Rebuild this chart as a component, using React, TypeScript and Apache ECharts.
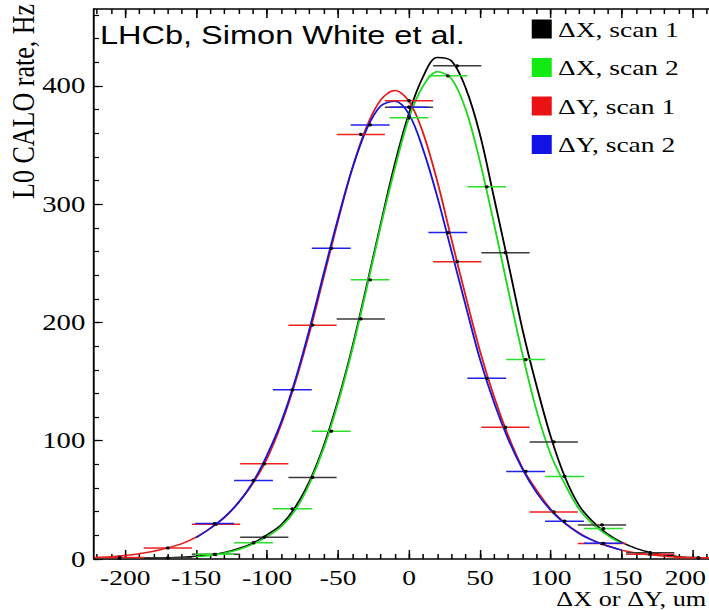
import React, { useEffect, useRef } from "react";
import * as echarts from "echarts";

// ---- data ----
const scan1X = [-204, -170, -136, -102, -68, -34, 0, 34, 68, 102, 136, 170, 204];
const scan2X = [-137, -109.6, -82.2, -54.8, -27.4, 0, 27.4, 54.8, 82.2, 109.6, 137];
const scan1HalfBin = 17;
const scan2HalfBin = 13.7;

const dx1Rate = [0.5, 1, 4, 18.4, 69, 203, 382, 417, 259, 99, 28.8, 5.3, 1];
const dy1Rate = [1.3, 9.3, 29.4, 80.5, 197.7, 359, 387.5, 251.4, 111.3, 39.8, 13, 4, 1];
const dx2Rate = [4, 13.8, 42.4, 108, 236, 373, 408.5, 314.7, 168.6, 69.8, 25.7];
const dy2Rate = [30, 66.4, 143, 262.7, 367, 382, 276, 152.8, 74, 32, 13.3];

const fitX1 = [-222, -210, -200, -190, -180, -170, -160, -150, -140, -130, -120, -110, -100, -90, -80, -70, -60, -50, -40, -30, -20, -10, 0, 10, 20, 30, 40, 50, 60, 70, 80, 90, 100, 110, 120, 130, 140, 150, 160, 170, 180, 190, 200, 210, 222];
const fitX2 = [-150, -140, -130, -120, -110, -100, -90, -80, -70, -60, -50, -40, -30, -20, -10, 0, 10, 20, 30, 40, 50, 60, 70, 80, 90, 100, 110, 120, 130, 140, 150];

const dx1Fit = [0.1, 0.2, 0.3, 0.5, 0.7, 1.0, 1.5, 2.3, 3.5, 5.5, 9, 13.5, 20.5, 29, 44, 66, 96, 134, 179, 230, 283, 334, 377, 408, 424, 421, 398, 359, 305, 250, 194, 146, 103, 69, 45, 31, 21, 14, 9, 5.5, 3.5, 2, 1.2, 0.7, 0.4];
const dy1Fit = [1.2, 2, 3, 4.5, 6.5, 9.5, 13, 18.5, 26, 35, 48, 64, 85, 114, 150, 192, 239, 286, 330, 365, 388, 396, 387, 360, 319, 270, 222, 176, 137, 104, 77, 58, 42, 30.5, 22, 15.6, 11, 7.5, 5, 3.5, 2.4, 1.7, 1.2, 0.8, 0.5];
const dx2Fit = [2, 3, 5, 8, 12.5, 19, 27.5, 41.5, 64, 94, 132, 177, 228, 281, 330, 373, 400, 412, 406, 380, 336, 283, 227, 173, 125, 88, 63, 42, 29, 20, 13];
const dy2Fit = [18, 26, 35.5, 48, 65, 88, 116, 152, 195, 242, 288, 330, 363, 383, 387, 376, 346, 306, 260, 214, 169, 132, 101, 76, 56, 41, 30, 21.5, 15.5, 11, 7.5];

const xMajorTicks = [-200, -150, -100, -50, 0, 50, 100, 150, 200];
const xMinorTicks = [-220, -210, -200, -190, -180, -170, -160, -150, -140, -130, -120, -110, -100, -90, -80, -70, -60, -50, -40, -30, -20, -10, 0, 10, 20, 30, 40, 50, 60, 70, 80, 90, 100, 110, 120, 130, 140, 150, 160, 170, 180, 190, 200, 210, 220];
const yMajorTicks = [0, 100, 200, 300, 400];
const yMinorTicks = [0, 20, 40, 60, 80, 100, 120, 140, 160, 180, 200, 220, 240, 260, 280, 300, 320, 340, 360, 380, 400, 420, 440, 460];

const seriesNames = ["ΔX, scan 1", "ΔX, scan 2", "ΔY, scan 1", "ΔY, scan 2"];
const legendColors = ["#000000", "#12ea12", "#ea1212", "#1212e6"];
const curveColors = ["#000000", "#1ed81e", "#e41a1a", "#1515dd"];
const barColors = ["#3a3a3a", "#2ae02a", "#ee2020", "#2020ee"];

const SX = 1.25; // horizontal stretch of the reference picture
const W = 600;
const H = 610;

const serif = "'Liberation Serif', 'Times New Roman', serif";

function pointsSeries(name: string, xs: number[], ys: number[], hw: number, color: string) {
  return {
    type: "custom",
    name,
    data: xs.map((x, i) => [x, ys[i], hw]),
    encode: { x: 0, y: 1 },
    z: 5,
    renderItem: (params: any, api: any) => {
      const x = api.value(0);
      const y = api.value(1);
      const h = api.value(2);
      const p0 = api.coord([x - h, y]);
      const p1 = api.coord([x + h, y]);
      const c = api.coord([x, y]);
      return {
        type: "group",
        children: [
          {
            type: "line",
            shape: { x1: p0[0], y1: p0[1], x2: p1[0], y2: p1[1] },
            style: { stroke: color, lineWidth: 1.5 },
          },
          {
            type: "circle",
            shape: { cx: c[0], cy: c[1], r: 1.6 },
            style: { fill: "#000" },
          },
        ],
      };
    },
  };
}

function fitSeries(name: string, xs: number[], ys: number[], color: string) {
  return {
    type: "line",
    name,
    data: xs.map((x, i) => [x, ys[i]]),
    showSymbol: false,
    symbol: "none",
    smooth: 0.35,
    z: 3,
    lineStyle: { color, width: 1.5 },
    itemStyle: { color },
  };
}

export default function App() {
  const ref = useRef<HTMLDivElement>(null);

  useEffect(() => {
    if (!ref.current) return;
    const chart = echarts.init(ref.current, undefined, { renderer: "svg", width: W, height: H });
    const axisLineStyle = { color: "#000", width: 1.5 };
    const tickStyle = { color: "#000", width: 1.2 };
    const baseX = { type: "value", min: -222, max: 222, splitLine: { show: false } };
    const baseY = { type: "value", min: 0, max: 465, splitLine: { show: false } };
    const lastX = xMajorTicks[xMajorTicks.length - 1];

    chart.setOption({
      animation: false,
      backgroundColor: "#fff",
      grid: { left: 75.2, right: 20.8, top: 9, bottom: 51, containLabel: false, outerBoundsMode: "none" },
      legend: {
        orient: "vertical",
        left: 425.4,
        top: 18,
        padding: 0,
        itemWidth: 16,
        itemHeight: 19,
        itemGap: 16.5,
        selectedMode: false,
        textStyle: { fontFamily: serif, fontSize: 22, color: "#000", lineHeight: 19 },
        data: seriesNames.map((n, i) => ({ name: n, icon: "rect", itemStyle: { color: legendColors[i] } })),
      },
      xAxis: [
        {
          ...baseX,
          position: "bottom",
          axisLine: { onZero: false, lineStyle: axisLineStyle },
          axisTick: { inside: true, length: 9, customValues: xMajorTicks, lineStyle: tickStyle },
          axisLabel: {
            customValues: xMajorTicks,
            fontFamily: serif,
            fontSize: 22,
            color: "#000",
            margin: 7,
            formatter: (v: number) => (v === lastX ? "{edge|" + v + "}" : String(v)),
            rich: {
              edge: { fontFamily: serif, fontSize: 22, color: "#000", padding: [0, 12, 0, 0] },
            },
          },
        },
        {
          ...baseX,
          position: "bottom",
          axisLine: { show: false, onZero: false },
          axisTick: { inside: true, length: 5, customValues: xMinorTicks, lineStyle: tickStyle },
          axisLabel: { show: false },
        },
        {
          ...baseX,
          position: "top",
          axisLine: { onZero: false, lineStyle: axisLineStyle },
          axisTick: { inside: true, length: 9, customValues: xMajorTicks, lineStyle: tickStyle },
          axisLabel: { show: false },
        },
        {
          ...baseX,
          position: "top",
          axisLine: { show: false, onZero: false },
          axisTick: { inside: true, length: 5, customValues: xMinorTicks, lineStyle: tickStyle },
          axisLabel: { show: false },
        },
      ],
      yAxis: [
        {
          ...baseY,
          position: "left",
          axisLine: { show: true, onZero: false, lineStyle: axisLineStyle },
          axisTick: { show: true, inside: true, length: 7, customValues: yMajorTicks, lineStyle: tickStyle },
          axisLabel: { customValues: yMajorTicks, fontFamily: serif, fontSize: 23, color: "#000", margin: 7 },
        },
        {
          ...baseY,
          position: "left",
          axisLine: { show: false, onZero: false },
          axisTick: { show: true, inside: true, length: 4, customValues: yMinorTicks, lineStyle: tickStyle },
          axisLabel: { show: false },
        },
        {
          ...baseY,
          position: "right",
          axisLine: { show: true, onZero: false, lineStyle: axisLineStyle },
          axisTick: { show: true, inside: true, length: 7, customValues: yMajorTicks, lineStyle: tickStyle },
          axisLabel: { show: false },
        },
      ],
      graphic: [
        {
          type: "text",
          x: 80,
          y: 22,
          style: {
            text: "LHCb, Simon White et al.",
            fontFamily: "'Liberation Sans', Arial, sans-serif",
            fontSize: 26,
            fill: "#000",
            verticalAlign: "top",
          },
        },
        {
          type: "text",
          x: 18.4,
          y: 4,
          rotation: Math.PI / 2,
          style: {
            text: "L0 CALO rate, Hz",
            fontFamily: serif,
            fontSize: 26,
            fill: "#000",
            align: "right",
            verticalAlign: "middle",
          },
        },
        {
          type: "text",
          x: 565,
          y: 609,
          style: {
            text: "ΔX or ΔY, um",
            fontFamily: serif,
            fontSize: 21,
            fill: "#000",
            align: "right",
            verticalAlign: "bottom",
          },
        },
      ],
      series: [
        fitSeries(seriesNames[0], fitX1, dx1Fit, curveColors[0]),
        fitSeries(seriesNames[1], fitX2, dx2Fit, curveColors[1]),
        fitSeries(seriesNames[2], fitX1, dy1Fit, curveColors[2]),
        fitSeries(seriesNames[3], fitX2, dy2Fit, curveColors[3]),
        pointsSeries(seriesNames[0], scan1X, dx1Rate, scan1HalfBin, barColors[0]),
        pointsSeries(seriesNames[1], scan2X, dx2Rate, scan2HalfBin, barColors[1]),
        pointsSeries(seriesNames[2], scan1X, dy1Rate, scan1HalfBin, barColors[2]),
        pointsSeries(seriesNames[3], scan2X, dy2Rate, scan2HalfBin, barColors[3]),
      ],
    });
    return () => chart.dispose();
  }, []);

  return (
    <div
      style={{
        position: "fixed",
        left: 0,
        top: 0,
        width: 709,
        height: 610,
        overflow: "hidden",
        background: "#fff",
      }}
    >
      <div
        ref={ref}
        style={{
          width: W,
          height: H,
          transform: `scaleX(${SX})`,
          transformOrigin: "0 0",
        }}
      />
    </div>
  );
}
